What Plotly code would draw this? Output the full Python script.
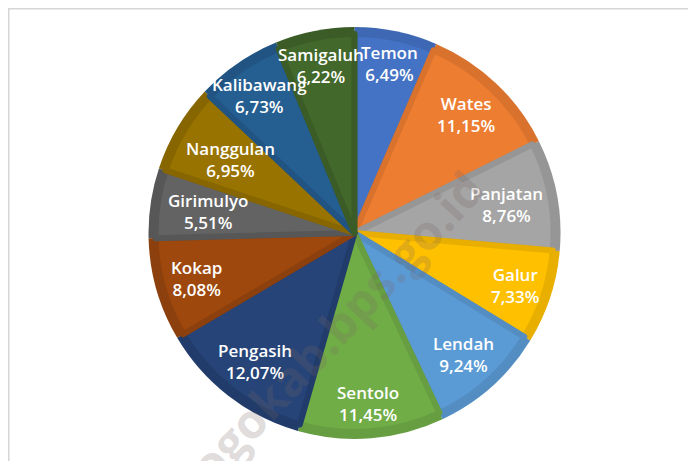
import math
import plotly.graph_objects as go

# ---- data ----
kecamatan = ["Temon", "Wates", "Panjatan", "Galur", "Lendah", "Sentolo",
             "Pengasih", "Kokap", "Girimulyo", "Nanggulan", "Kalibawang", "Samigaluh"]
persen = [6.49, 11.15, 8.76, 7.33, 9.24, 11.45, 12.07, 8.08, 5.51, 6.95, 6.73, 6.22]

# ---- style ----
warna = ["#4472C4", "#ED7D31", "#A5A5A5", "#FFC000", "#5B9BD5", "#70AD47",
         "#264478", "#9E480E", "#636363", "#997300", "#255E91", "#43682B"]
warna_tepi = ["#3E68B3", "#D8722D", "#969696", "#E8AF00", "#538DC2", "#669E41",
              "#213C6A", "#8C400D", "#575757", "#876600", "#215482", "#3B5C26"]
# radial placement of each data label (fraction of radius, "best fit")
label_rfrac = [0.84, 0.79, 0.75, 0.82, 0.79, 0.83, 0.79, 0.80, 0.72, 0.70, 0.81, 0.83]

watermark = "kulonprogokab.bps.go.id"

# ---- layout geometry (page body has an 8px margin) ----
OFF = 8
W, H = 696 - OFF, 461 - OFF
cx, cy, r = 354.5 - OFF, 233 - OFF, 206
inset = 7


def dom(rad):
    return dict(x=[(cx - rad) / W, (cx + rad) / W],
                y=[(H - cy - rad) / H, (H - cy + rad) / H])


fig = go.Figure()

# outer (border) layer
fig.add_trace(go.Pie(
    labels=kecamatan, values=persen, sort=False, direction="clockwise",
    rotation=0, domain=dom(r),
    marker=dict(colors=warna_tepi, line=dict(width=0)),
    textinfo="none", hoverinfo="skip", showlegend=False,
))

# inner (fill) layer
fig.add_trace(go.Pie(
    labels=kecamatan, values=persen, sort=False, direction="clockwise",
    rotation=0, domain=dom(r - inset),
    marker=dict(colors=warna, line=dict(color=warna_tepi, width=6)),
    textinfo="none", hoverinfo="skip", showlegend=False,
))

# data labels placed on each slice's mid-angle
total = sum(persen)
annotations = []
cum = 0.0
for name, val, rf in zip(kecamatan, persen, label_rfrac):
    mid = (cum + val / 2) / total * 2 * math.pi
    cum += val
    px = cx + rf * r * math.sin(mid)
    py = cy - rf * r * math.cos(mid)
    txt = f"{name}<br>{val:.2f}%".replace(".", ",")
    annotations.append(dict(
        text=txt, xref="paper", yref="paper", x=px / W, y=(H - py) / H,
        xanchor="center", yanchor="middle", showarrow=False, align="center",
        font=dict(family="Open Sans", size=17, color="white", weight=600),
    ))

annotations.append(dict(
    text="<b>" + watermark + "</b>", xref="paper", yref="paper",
    x=(272 - OFF) / W, y=(H - (396 - OFF)) / H,
    xanchor="center", yanchor="middle", showarrow=False, textangle=-47,
    font=dict(family="Open Sans", size=48, color="rgba(120,100,100,0.24)"),
))

fig.update_layout(
    width=W, height=H,
    margin=dict(l=0, r=0, t=0, b=0),
    paper_bgcolor="white", plot_bgcolor="white",
    shapes=[dict(type="rect", xref="paper", yref="paper",
                 x0=0.75 / W, x1=1.05, y0=-0.05, y1=(H - 0.75) / H,
                 line=dict(color="#d6d6d6", width=1.5), fillcolor="rgba(0,0,0,0)")],
    annotations=annotations,
)

fig.write_html("out.html")
